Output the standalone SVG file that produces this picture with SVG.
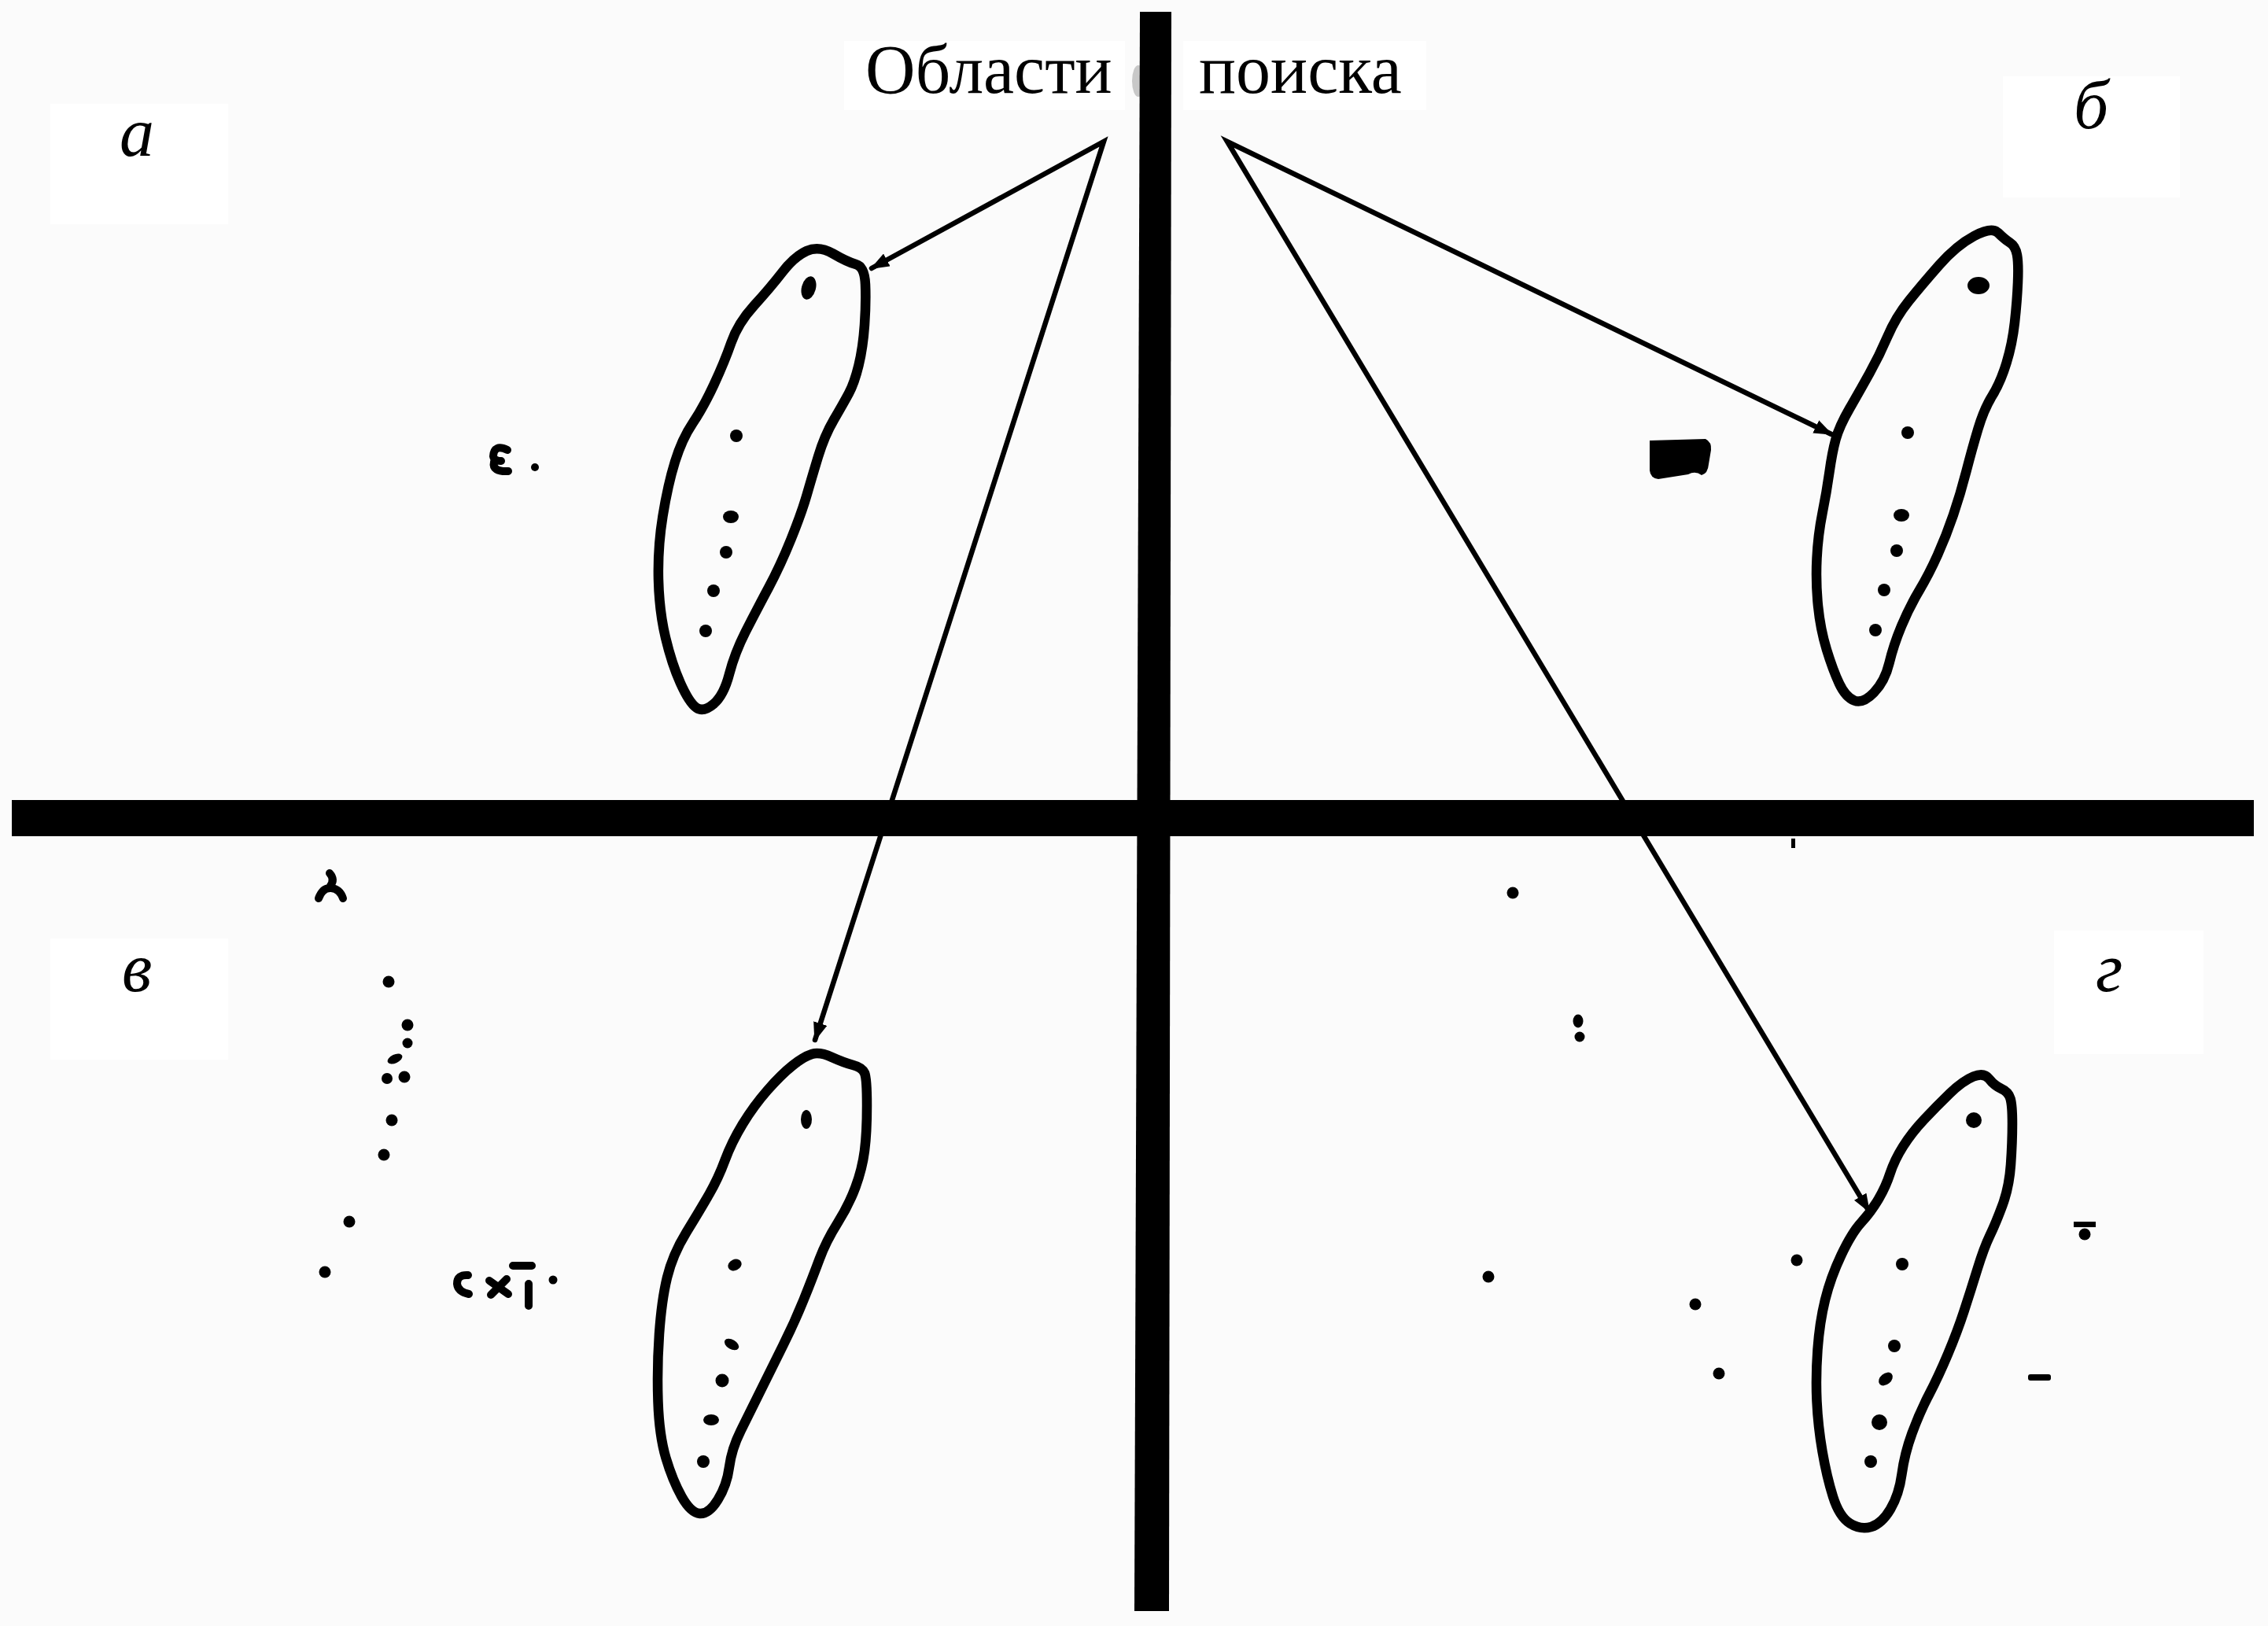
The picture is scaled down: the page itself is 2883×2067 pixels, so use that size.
<svg xmlns="http://www.w3.org/2000/svg" width="2883" height="2067" viewBox="0 0 2883 2067">
  <style>
    .blob { fill: none; stroke: #000; stroke-width: 12.5; stroke-linejoin: round; }
    .dot { fill: #000; }
    .conn { fill: none; stroke: #000; stroke-width: 6.5; stroke-linejoin: miter; stroke-linecap: round; }
    .title { font-family: "Liberation Serif", "Times New Roman", serif; font-size: 88px; fill: #000; }
    .lbl { font-family: "Liberation Serif", "Times New Roman", serif; font-style: italic; font-size: 88px; fill: #000; }
    .box { fill: #ffffff; }
    .mark { fill: none; stroke: #000; stroke-width: 10; stroke-linecap: round; stroke-linejoin: round; }
  </style>
  <defs>
    <marker id="arr" viewBox="0 0 24 18" refX="22" refY="9" markerWidth="24" markerHeight="18" markerUnits="userSpaceOnUse" orient="auto-start-reverse">
      <path d="M0,0 L24,9 L0,18 z" fill="#000"/>
    </marker>
  </defs>

  <rect x="0" y="0" width="2883" height="2067" fill="#fbfbfb"/>

  <!-- title -->
  <g id="title">
    <rect class="box" x="1073" y="52" width="357" height="88"/>
    <rect class="box" x="1504" y="52" width="309" height="88"/>
    <ellipse cx="1447" cy="103" rx="8" ry="20" fill="#c8c8c8"/>
    <text class="title" x="1100" y="118">Области</text>
    <text class="title" x="1524" y="118">поиска</text>
  </g>

  <!-- labels -->
  <g id="label-a">
    <rect class="box" x="64" y="132" width="226" height="153"/>
    <text class="lbl" x="152" y="198">а</text>
  </g>
  <g id="label-b">
    <rect class="box" x="2546" y="97" width="225" height="154"/>
    <text class="lbl" x="2636" y="163">б</text>
  </g>
  <g id="label-v">
    <rect class="box" x="64" y="1193" width="226" height="154"/>
    <text class="lbl" x="155" y="1260">в</text>
  </g>
  <g id="label-g">
    <rect class="box" x="2611" y="1183" width="190" height="157"/>
    <text class="lbl" x="2664" y="1260">г</text>
  </g>

  <!-- axes -->
  <g id="axes">
    <polygon points="15,1017 2865,1017 2865,1063 15,1063" fill="#000"/>
    <polygon points="1449,15 1489,15 1486,2048 1442,2048" fill="#000"/>
  </g>

  <!-- connectors -->
  <g id="connectors">
    <polyline class="conn" points="1108,341 1403,180 1036,1322" marker-start="url(#arr)" marker-end="url(#arr)"/>
    <polyline class="conn" points="2328,552 1560,180 2376,1540" marker-start="url(#arr)" marker-end="url(#arr)"/>
  </g>

  <!-- quadrant a -->
  <g id="region-a">
    <path class="blob" d="M1025.5,319 Q1041,312 1059,322.5 Q1077,333 1088,336 Q1099,339 1100,361.5 Q1101,384 1099,413 Q1097,442 1091.5,464.5 Q1086,487 1079,500 Q1072,513 1060,533.5 Q1048,554 1040,580.5 Q1032,607 1025.5,629.5 Q1019,652 1005.5,685.5 Q992,719 976.5,748 Q961,777 947.5,803.5 Q934,830 927,857 Q920,884 907,895 Q894,906 885,899.5 Q876,893 865,868.5 Q854,844 846,810.5 Q838,777 837,736.5 Q836,696 842.5,656 Q849,616 858,587 Q867,558 880.5,538 Q894,518 907.5,489 Q921,460 929.5,435.5 Q938,411 958.5,388.5 Q979,366 994.5,346 Q1010,326 1025.5,319 Z"/>
    <ellipse class="dot" cx="1028" cy="366" rx="9" ry="15" transform="rotate(15 1028 366)"/>
    <circle class="dot" cx="936" cy="554" r="8"/>
    <ellipse class="dot" cx="929" cy="657" rx="10" ry="8"/>
    <circle class="dot" cx="923" cy="702" r="8"/>
    <circle class="dot" cx="907" cy="751" r="8"/>
    <circle class="dot" cx="897" cy="802" r="8"/>
    <path class="mark" d="M645,572 Q628,564 627,580 Q628,586 637,586 M628,587 Q625,600 646,599"/>
    <circle class="dot" cx="680" cy="594" r="5"/>
  </g>

  <!-- quadrant b -->
  <g id="region-b">
    <path class="blob" d="M2509.5,300 Q2532,288 2540,296 Q2548,304 2555,308.5 Q2562,313 2564,324 Q2566,335 2565,359 Q2564,383 2561,410 Q2558,437 2550.5,461.5 Q2543,486 2532.5,503 Q2522,520 2514.5,545 Q2507,570 2499.5,599 Q2492,628 2483,654.5 Q2474,681 2463,705.5 Q2452,730 2439.5,751 Q2427,772 2417,796 Q2407,820 2401.5,843 Q2396,866 2382,880.5 Q2368,895 2357,890.5 Q2346,886 2338,869 Q2330,852 2322,826 Q2314,800 2311,770 Q2308,740 2309.5,710 Q2311,680 2316.5,652.5 Q2322,625 2325.5,600 Q2329,575 2333.5,558.5 Q2338,542 2351,519.5 Q2364,497 2376.5,474.5 Q2389,452 2399.5,427.5 Q2410,403 2426.5,382.5 Q2443,362 2465,337 Q2487,312 2509.5,300 Z"/>
    <ellipse class="dot" cx="2515" cy="363" rx="14" ry="11"/>
    <circle class="dot" cx="2425" cy="550" r="8"/>
    <ellipse class="dot" cx="2417" cy="655" rx="10" ry="8"/>
    <circle class="dot" cx="2411" cy="700" r="8"/>
    <circle class="dot" cx="2395" cy="750" r="8"/>
    <circle class="dot" cx="2384" cy="801" r="8"/>
    <path class="dot" d="M2097,560 L2168,558 Q2176,562 2175,572 L2172,590 Q2171,602 2163,604 Q2155,598 2146,603 L2108,609 Q2098,608 2097,598 Z"/>
  </g>

  <!-- quadrant v -->
  <g id="region-v">
    <path class="blob" d="M1032,1340 Q1042,1337 1057.5,1344 Q1073,1351 1084.5,1354 Q1096,1357 1099,1364 Q1102,1371 1102,1405.5 Q1102,1440 1099,1463 Q1096,1486 1087.5,1509 Q1079,1532 1064.5,1555 Q1050,1578 1041.5,1601 Q1033,1624 1021.5,1652.5 Q1010,1681 995.5,1710 Q981,1739 967,1767.5 Q953,1796 941.5,1819 Q930,1842 927,1865 Q924,1888 912.5,1906.5 Q901,1925 889.5,1924 Q878,1923 866.5,1902.5 Q855,1882 846.5,1853.5 Q838,1825 836.5,1782 Q835,1739 838,1696 Q841,1653 848,1624 Q855,1595 872.5,1566.5 Q890,1538 901.5,1518 Q913,1498 921.5,1475 Q930,1452 944,1429 Q958,1406 975.5,1386 Q993,1366 1007.5,1354.5 Q1022,1343 1032,1340 Z"/>
    <ellipse class="dot" cx="1025" cy="1423" rx="7" ry="12"/>
    <ellipse class="dot" cx="934" cy="1608" rx="9" ry="7" transform="rotate(-25 934 1608)"/>
    <ellipse class="dot" cx="930" cy="1709" rx="10" ry="6" transform="rotate(30 930 1709)"/>
    <circle class="dot" cx="918" cy="1755" r="8.5"/>
    <ellipse class="dot" cx="904" cy="1805" rx="10" ry="7"/>
    <circle class="dot" cx="894" cy="1858" r="8"/>
    <path class="mark" d="M419,1110 Q426,1118 420,1126 M405,1142 Q410,1128 421,1129 Q432,1130 436,1142"/>
    <circle class="dot" cx="494" cy="1248" r="7.5"/>
    <circle class="dot" cx="518" cy="1303" r="7.5"/>
    <circle class="dot" cx="518" cy="1326" r="6.5"/>
    <ellipse class="dot" cx="502" cy="1346" rx="10" ry="5.5" transform="rotate(-25 502 1346)"/>
    <circle class="dot" cx="492" cy="1371" r="7"/>
    <circle class="dot" cx="514" cy="1369" r="7.5"/>
    <circle class="dot" cx="498" cy="1424" r="7.5"/>
    <circle class="dot" cx="488" cy="1468" r="7.5"/>
    <circle class="dot" cx="444" cy="1553" r="7.5"/>
    <circle class="dot" cx="413" cy="1617" r="7.5"/>
    <path class="mark" d="M595,1621 Q581,1620 581,1632 Q582,1642 596,1645"/>
    <path class="mark" d="M622,1628 L646,1645 M644,1626 L624,1646"/>
    <path class="mark" d="M652,1609 L676,1609 M672,1632 L672,1660"/>
    <circle class="dot" cx="703" cy="1627" r="5.5"/>
  </g>

  <!-- quadrant g -->
  <g id="region-g">
    <path class="blob" d="M2508.5,1368.5 Q2522,1363 2528.5,1371.5 Q2535,1380 2544,1384 Q2553,1388 2555.5,1396.5 Q2558,1405 2558,1428.5 Q2558,1452 2556,1480.5 Q2554,1509 2545.5,1532 Q2537,1555 2529.5,1570.5 Q2522,1586 2513.5,1613.5 Q2505,1641 2496.5,1667 Q2488,1693 2476,1721.5 Q2464,1750 2452,1773 Q2440,1796 2430.5,1822 Q2421,1848 2417.5,1874 Q2414,1900 2403,1918.5 Q2392,1937 2378.5,1941 Q2365,1945 2351.5,1936.5 Q2338,1928 2330,1902.5 Q2322,1877 2316.5,1845 Q2311,1813 2309.5,1781.5 Q2308,1750 2310.5,1715.5 Q2313,1681 2320,1652.5 Q2327,1624 2340.5,1595.5 Q2354,1567 2366,1554 Q2378,1541 2387.5,1525 Q2397,1509 2402.5,1492 Q2408,1475 2419,1457.5 Q2430,1440 2446,1423 Q2462,1406 2478.5,1390 Q2495,1374 2508.5,1368.5 Z"/>
    <circle class="dot" cx="2509" cy="1424" r="10"/>
    <circle class="dot" cx="2418" cy="1607" r="8"/>
    <circle class="dot" cx="2408" cy="1711" r="8"/>
    <ellipse class="dot" cx="2397" cy="1753" rx="10" ry="7" transform="rotate(-40 2397 1753)"/>
    <circle class="dot" cx="2389" cy="1808" r="10"/>
    <circle class="dot" cx="2378" cy="1858" r="8"/>
    <rect class="dot" x="2277" y="1066" width="5" height="12"/>
    <circle class="dot" cx="1923" cy="1135" r="7.5"/>
    <ellipse class="dot" cx="2006" cy="1298" rx="6.5" ry="8.5"/>
    <circle class="dot" cx="2008" cy="1318" r="6.5"/>
    <circle class="dot" cx="1892" cy="1623" r="7.5"/>
    <circle class="dot" cx="2155" cy="1658" r="7.5"/>
    <circle class="dot" cx="2185" cy="1746" r="7.5"/>
    <circle class="dot" cx="2284" cy="1602" r="7.5"/>
    <rect class="dot" x="2636" y="1553" width="28" height="7"/>
    <circle class="dot" cx="2650" cy="1569" r="7.5"/>
    <rect class="dot" x="2578" y="1747" width="29" height="8" rx="3"/>
  </g>
</svg>
